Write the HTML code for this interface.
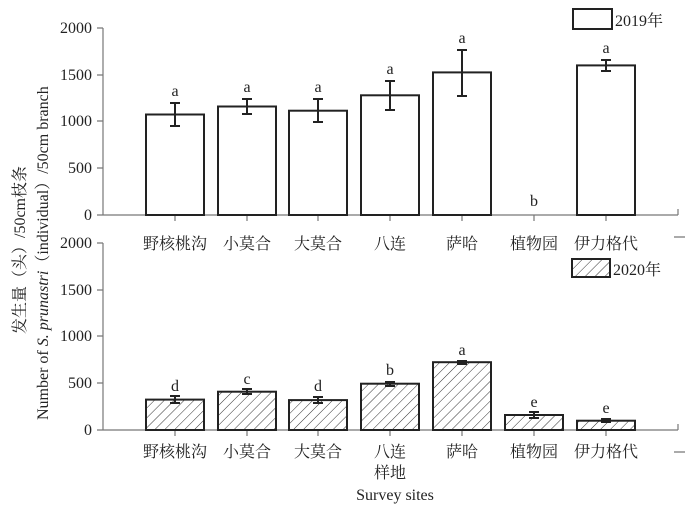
<!DOCTYPE html>
<html><head><meta charset="utf-8"><style>
body{margin:0;background:#fff}
svg{display:block;font-family:"Liberation Serif","Noto Serif CJK SC",serif}
</style></head><body>
<svg width="700" height="511" viewBox="0 0 700 511" xmlns="http://www.w3.org/2000/svg">
<defs>
<pattern id="h" width="7" height="7" patternUnits="userSpaceOnUse" patternTransform="rotate(45)">
<rect width="7" height="7" fill="#fff"/><line x1="0" y1="0" x2="0" y2="7" stroke="#333" stroke-width="1"/>
</pattern>
</defs>
<g stroke="#777" stroke-width="1.2" fill="none">
<path d="M103,28V215H678M97,28H103M97,75H103M97,121H103M97,168H103M97,215H103"/>
<path d="M103,243V430H678M97,243H103M97,290H103M97,336H103M97,383H103M97,430H103"/>
<path d="M175,215v6M247,215v6M318,215v6M390,215v6M462,215v6M534,215v6M606,215v6M678,209v6"/>
<path d="M175,430v6M247,430v6M318,430v6M390,430v6M462,430v6M534,430v6M606,430v6M678,424v6"/>
<path d="M674,237h11M674,452h11"/>
</g>
<g font-size="16" text-anchor="end" fill="#222">
<text x="92" y="33">2000</text><text x="92" y="80">1500</text><text x="92" y="126">1000</text><text x="92" y="173">500</text><text x="92" y="220">0</text>
<text x="92" y="248">2000</text><text x="92" y="295">1500</text><text x="92" y="341">1000</text><text x="92" y="388">500</text><text x="92" y="435">0</text>
</g>
<g fill="#fff" stroke="#222" stroke-width="2">
<rect x="146" y="114.5" width="58" height="100.5"/>
<rect x="218" y="106.5" width="58" height="108.5"/>
<rect x="289" y="110.7" width="58" height="104.3"/>
<rect x="361" y="95.3" width="58" height="119.7"/>
<rect x="433" y="72.4" width="58" height="142.6"/>
<rect x="577" y="65.4" width="58" height="149.6"/>
</g>
<g fill="url(#h)" stroke="#222" stroke-width="2">
<rect x="146" y="399.6" width="58" height="30.4"/>
<rect x="218" y="391.7" width="58" height="38.3"/>
<rect x="289" y="400.1" width="58" height="29.9"/>
<rect x="361" y="383.7" width="58" height="46.3"/>
<rect x="433" y="362.2" width="58" height="67.8"/>
<rect x="505" y="415" width="58" height="15"/>
<rect x="577" y="420.7" width="58" height="9.3"/>
</g>
<g stroke="#222" stroke-width="2" fill="none">
<path d="M175,103v23M170,103h10M170,126h10"/>
<path d="M247,99v15M242,99h10M242,114h10"/>
<path d="M318,99v23M313,99h10M313,122h10"/>
<path d="M390,81v29M385,81h10M385,110h10"/>
<path d="M462,50v46M457,50h10M457,96h10"/>
<path d="M606,60v11M601,60h10M601,71h10"/>
<path d="M175,396v7M170,396h10M170,403h10"/>
<path d="M247,389v5M242,389h10M242,394h10"/>
<path d="M318,397v6M313,397h10M313,403h10"/>
<path d="M390,382v4M385,382h10M385,386h10"/>
<path d="M462,361v3M457,361h10M457,364h10"/>
<path d="M534,412v6M529,412h10M529,418h10"/>
<path d="M606,419v3M601,419h10M601,422h10"/>
</g>
<g font-size="16" text-anchor="middle" fill="#222">
<text x="175" y="96">a</text><text x="247" y="92">a</text><text x="318" y="92">a</text><text x="390" y="74">a</text><text x="462" y="43">a</text><text x="534" y="206">b</text><text x="606" y="53">a</text>
<text x="175" y="391">d</text><text x="247" y="384">c</text><text x="318" y="391">d</text><text x="390" y="375">b</text><text x="462" y="355">a</text><text x="534" y="407">e</text><text x="606" y="413">e</text>
</g>
<g font-size="16" text-anchor="middle" fill="#222">
<text x="175" y="249">野核桃沟</text><text x="247" y="249">小莫合</text><text x="318" y="249">大莫合</text><text x="390" y="249">八连</text><text x="462" y="249">萨哈</text><text x="534" y="249">植物园</text><text x="606" y="249">伊力格代</text>
<text x="175" y="457">野核桃沟</text><text x="247" y="457">小莫合</text><text x="318" y="457">大莫合</text><text x="390" y="457">八连</text><text x="462" y="457">萨哈</text><text x="534" y="457">植物园</text><text x="606" y="457">伊力格代</text>
<text x="390" y="478">样地</text>
<text x="395" y="500">Survey sites</text>
</g>
<rect x="573" y="9" width="39" height="20" fill="#fff" stroke="#222" stroke-width="2"/>
<text x="615" y="26" font-size="16" fill="#222">2019年</text>
<rect x="572" y="259" width="38" height="18" fill="url(#h)" stroke="#222" stroke-width="2"/>
<text x="613" y="275" font-size="16" fill="#222">2020年</text>
<text transform="translate(25,334) rotate(-90)" font-size="16" fill="#222">发生量（头）/50cm枝条</text>
<text transform="translate(48,420) rotate(-90)" font-size="16" fill="#222">Number of <tspan font-style="italic">S. prunastri</tspan>（individual）/50cm branch</text>
</svg>
</body></html>
